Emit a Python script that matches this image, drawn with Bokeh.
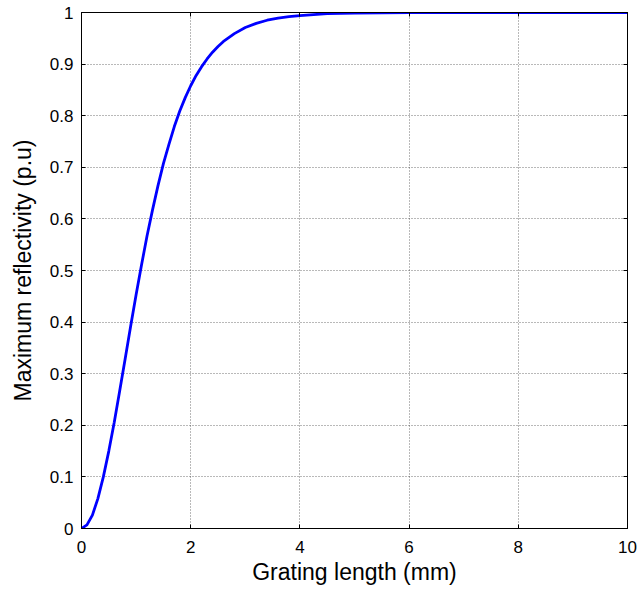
from bokeh.plotting import figure
from bokeh.models import Range1d, LinearAxis, FixedTicker
from bokeh.embed import file_html
from bokeh.resources import INLINE

# Grating length (mm) and maximum reflectivity (p.u)
length_mm = [0.0, 0.1, 0.2, 0.3, 0.4, 0.5, 0.6, 0.7, 0.8, 0.9, 1.0,
             1.1, 1.2, 1.3, 1.4, 1.5, 1.6, 1.7, 1.8, 1.9, 2.0,
             2.1, 2.2, 2.3, 2.4, 2.5, 2.6, 2.8, 3.0, 3.2, 3.4,
             3.6, 3.8, 4.0, 4.5, 5.0, 6.0, 8.0, 10.0]
reflectivity = [0.0, 0.007, 0.026, 0.058, 0.100, 0.150, 0.206, 0.267, 0.329, 0.392, 0.453,
                0.511, 0.567, 0.617, 0.664, 0.707, 0.744, 0.779, 0.809, 0.835, 0.858,
                0.878, 0.895, 0.910, 0.923, 0.934, 0.944, 0.959, 0.971, 0.979, 0.985,
                0.989, 0.992, 0.994, 0.998, 0.999, 1.0, 1.0, 1.0]

x_ticks = [0, 2, 4, 6, 8, 10]
y_ticks = [0, 0.1, 0.2, 0.3, 0.4, 0.5, 0.6, 0.7, 0.8, 0.9, 1.0]
y_tick_labels = ["0", "0.1", "0.2", "0.3", "0.4", "0.5", "0.6", "0.7", "0.8", "0.9", "1"]

FONT = "Liberation Sans"
TICK_SIZE = "17px"
TITLE_SIZE = "23px"

p = figure(width=640, height=592, output_backend="svg", toolbar_location=None,
           x_range=Range1d(0, 10), y_range=Range1d(0, 1),
           min_border_left=81, min_border_right=13, min_border_top=12, min_border_bottom=64)
p.background_fill_color = "white"
p.border_fill_color = "white"
p.outline_line_color = "black"
p.outline_line_width = 1

p.line(length_mm, reflectivity, line_color="#0000FF", line_width=2.8)

def style_axis(ax, ticks, show_labels):
    ax.ticker = FixedTicker(ticks=ticks)
    ax.major_tick_in = 4
    ax.major_tick_out = 0
    ax.minor_tick_line_color = None
    ax.axis_line_color = "black"
    ax.major_tick_line_color = "black"
    ax.major_label_text_font = FONT
    ax.major_label_text_color = "black"
    ax.axis_label_text_font = FONT
    ax.axis_label_text_font_style = "normal"
    ax.axis_label_text_color = "black"
    if not show_labels:
        ax.major_label_text_color = None
        ax.major_label_standoff = 0

xa = p.xaxis[0]
style_axis(xa, x_ticks, True)
xa.major_label_text_font_size = TICK_SIZE
xa.major_label_standoff = 12
xa.axis_label = "Grating length (mm)"
xa.axis_label_text_font_size = TITLE_SIZE
xa.axis_label_standoff = 3

ya = p.yaxis[0]
style_axis(ya, y_ticks, True)
ya.major_label_overrides = {t: l for t, l in zip(y_ticks, y_tick_labels)}
ya.major_label_text_font_size = TICK_SIZE
ya.major_label_standoff = 8
ya.axis_label = "Maximum reflectivity (p.u)"
ya.axis_label_text_font_size = TITLE_SIZE
ya.axis_label_standoff = 11

top_ax = LinearAxis()
style_axis(top_ax, x_ticks, False)
p.add_layout(top_ax, "above")
right_ax = LinearAxis()
style_axis(right_ax, y_ticks, False)
p.add_layout(right_ax, "right")

p.xgrid.ticker = FixedTicker(ticks=x_ticks)
p.ygrid.ticker = FixedTicker(ticks=y_ticks)
for g in (p.xgrid[0], p.ygrid[0]):
    g.grid_line_color = "#000000"
    g.grid_line_alpha = 0.55
    g.grid_line_dash = "1 2"
    g.grid_line_width = 1

open("out.html", "w").write(file_html(p, INLINE))
